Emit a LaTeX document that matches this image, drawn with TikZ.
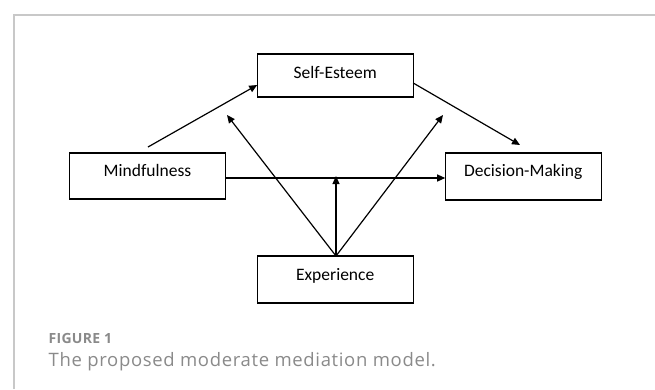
\documentclass[tikz,border=0pt]{standalone}
\usepackage{fontspec}
\setmainfont{Carlito}
\newfontfamily\capfont{Open Sans}
\usetikzlibrary{arrows.meta}
\definecolor{framegray}{HTML}{C8C8C8}
\definecolor{capgray}{HTML}{8A8A8A}
\tikzset{
  box/.style={draw=black, line width=1.2pt, minimum width=156pt, minimum height=45pt, inner sep=0pt, outer sep=0pt},
  lbl/.style={font=\fontsize{17.5}{20}\selectfont, inner sep=0pt, anchor=base},
  arr/.style={line width=1.2pt, -{Triangle[length=8pt,width=7pt]}},
}
\begin{document}
\begin{tikzpicture}[x=1pt,y=-1pt]
\useasboundingbox (0,0) rectangle (655,389);
\draw[framegray, line width=1.5pt] (14,389) -- (14,15) -- (655,15);
% boxes
\node[box, minimum height=43pt] (S) at (335.2,75.5) {};
\node[box, minimum height=46pt] (M) at (147.5,176) {};
\node[box, minimum height=47pt] (D) at (523.2,176.5) {};
\node[box, minimum height=47pt] (E) at (335.2,279.5) {};
\node[lbl] (St) at (335.2,78) {Self-Esteem};
\node[lbl] (Mt) at (147.5,176.7) {Mindfulness};
\node[lbl] (Dt) at (523.2,176.7) {Decision-Making};
\node[lbl] (Et) at (335.2,280.5) {Experience};
% free ends
\coordinate (m1) at (148,147);
\coordinate (s1) at (257,85);
\coordinate (s2) at (414,83);
\coordinate (d1) at (520,145);
\coordinate (e0) at (336,256);
\coordinate (h) at (336,178);
\coordinate (l1) at (227,115);
\coordinate (r1) at (443,115);
\draw[arr] (m1) -- (S.west |- s1);
\draw[arr] (S.east |- s2) -- (d1);
\draw[arr] (M.east |- h) -- (D.west |- h);
\draw[arr] (E.north -| e0) -- ([yshift=2pt]h);
\draw[arr] (E.north -| e0) -- (l1);
\draw[arr] (E.north -| e0) -- (r1);
% caption
\node[anchor=base west, inner sep=0pt, text=capgray, font=\capfont\bfseries\fontsize{14}{16}\selectfont\addfontfeature{LetterSpace=2}] (fig) at (48.5,343.3) {FIGURE 1};
\node[anchor=base west, inner sep=0pt, text=capgray, font=\capfont\fontsize{18.5}{22}\selectfont\addfontfeature{LetterSpace=3.5}] (cap) at (48.5,366.7) {The proposed moderate mediation model.};
\end{tikzpicture}
\end{document}
